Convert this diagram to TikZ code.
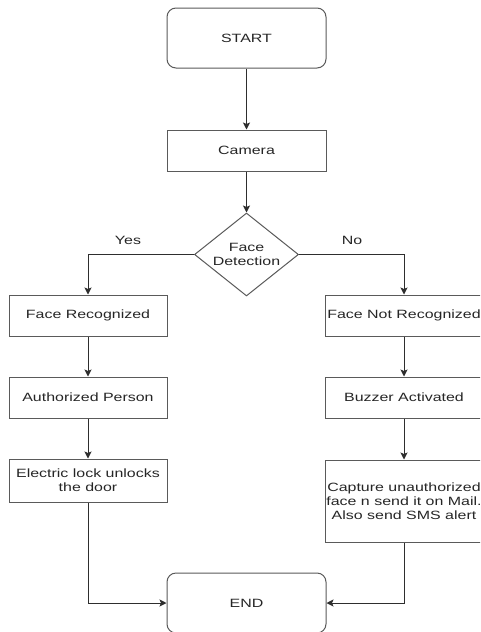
\documentclass[tikz,border=0pt]{standalone}
\usepackage{fontspec}
\setmainfont{Liberation Sans}
\newfontfamily\dfont[FakeStretch=1.33]{Liberation Sans}
\usetikzlibrary{shapes.geometric,arrows.meta}
\definecolor{boxline}{HTML}{5A5A5A}
\definecolor{arrline}{HTML}{2E2E2E}
\definecolor{txt}{HTML}{262626}
\begin{document}
\begin{tikzpicture}[x=1pt,y=-1pt,
  every node/.style={font=\dfont\fontsize{12}{14}\selectfont, text=txt, align=center},
  procbox/.style={draw=boxline, line width=1pt, rectangle, minimum width=158pt, minimum height=41pt, inner sep=0pt},
  termbox/.style={draw=boxline, line width=1pt, rectangle, rounded corners=9pt, minimum width=159pt, minimum height=60pt, inner sep=0pt},
  decbox/.style={draw=boxline, line width=1pt, diamond, aspect=1.25, minimum width=104pt, minimum height=83pt, inner sep=0pt},
  flow/.style={draw=arrline, line width=1pt, -{Stealth[length=7pt,width=7pt,inset=1.5pt]}},
  lbl/.style={font=\dfont\fontsize{12}{14}\selectfont}
]
\useasboundingbox (0,0) rectangle (480,632);
\clip (0,0) rectangle (480,632);
\fill[white] (0,0) rectangle (480,632);

\node[termbox] (start) at (246.5,38) {START};
\node[procbox, minimum width=159pt] (camera) at (246.5,150.5) {Camera};
\node[decbox] (dec) at (246.5,254.5) {Face\\Detection};

\node[procbox] (fr) at (88,315.5) {Face Recognized};
\node[procbox] (ap) at (88,397.5) {Authorized Person};
\node[procbox, minimum height=43pt] (el) at (88,480.5) {Electric lock unlocks\\the door};

\node[procbox] (fnr) at (404,315.5) {Face Not Recognized};
\node[procbox] (ba) at (404,397.5) {Buzzer Activated};
\node[procbox, minimum height=82pt] (cap) at (404,501) {Capture unauthorized\\face n send it on Mail.\\Also send SMS alert};

\node[termbox] (end) at (246.5,603) {END};

\draw[flow] (start) -- (camera);
\draw[flow] (camera) -- (dec);
\draw[flow] (dec.west) -| (fr.north);
\draw[flow] (dec.east) -| (fnr.north);
\draw[flow] (fr) -- (ap);
\draw[flow] (ap) -- (el);
\draw[flow] (fnr) -- (ba);
\draw[flow] (ba) -- (cap);
\draw[flow] (el.south) |- (end.west);
\draw[flow] (cap.south) |- (end.east);

\node[lbl] (yes) at (128,240) {Yes};
\node[lbl] (no) at (352,240) {No};
\end{tikzpicture}
\end{document}
